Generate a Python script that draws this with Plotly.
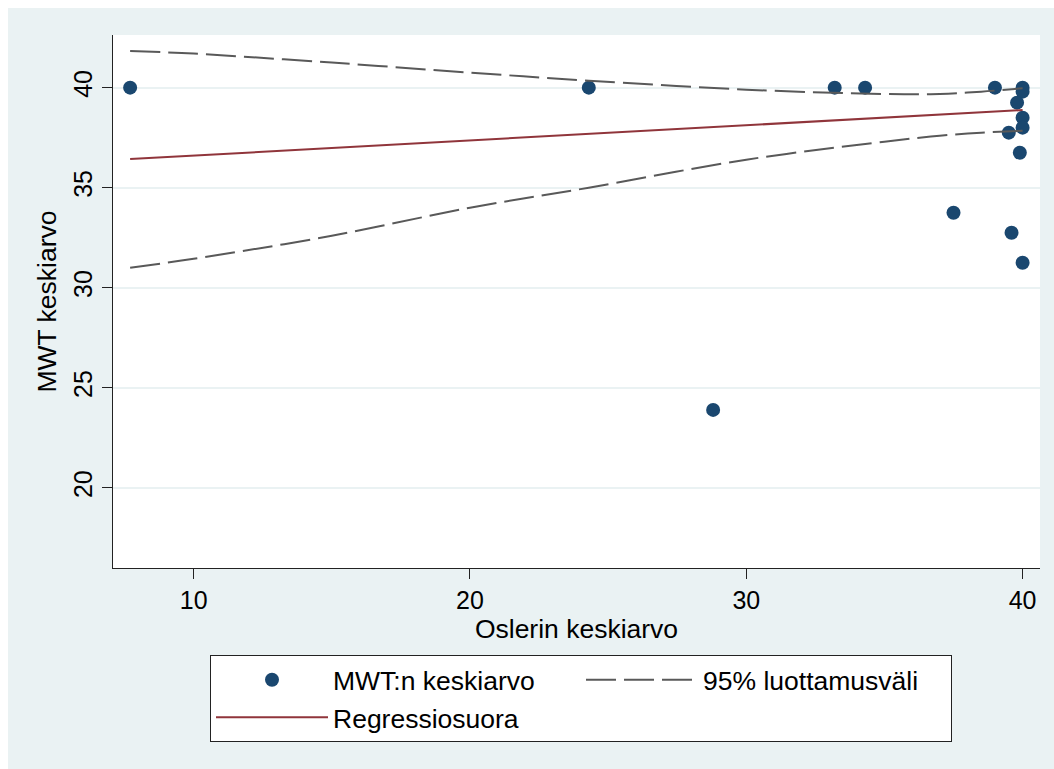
import plotly.graph_objects as go

# Data
osler = [7.7, 24.3, 28.8, 33.2, 34.3, 37.5, 39.0, 40.0, 40.0, 39.8, 40.0, 40.0, 39.5, 39.9, 39.6, 40.0]
mwt = [40.0, 40.0, 23.9, 40.0, 40.0, 33.75, 40.0, 40.0, 39.8, 39.25, 38.5, 38.0, 37.75, 36.75, 32.75, 31.25]

fit_x = [7.7, 40.0]
fit_y = [36.43, 38.88]

ci_x = [7.7, 10, 15, 20, 24.3, 30, 35, 37, 38.5, 40]
ci_upper = [41.83, 41.7, 41.25, 40.75, 40.35, 39.9, 39.68, 39.68, 39.8, 39.97]
ci_lower = [31.0, 31.45, 32.6, 34.0, 35.0, 36.4, 37.3, 37.6, 37.75, 37.85]

y_ticks = [20, 25, 30, 35, 40]
x_ticks = [10, 20, 30, 40]

NAVY = "#1A476F"
MAROON = "#90353B"
DASH = "#595959"
BG = "#EAF2F3"
FONT = "Liberation Sans, Arial, sans-serif"

fig = go.Figure()
fig.add_trace(go.Scatter(x=osler, y=mwt, mode="markers", name="MWT:n keskiarvo",
                         marker=dict(color=NAVY, size=14, line=dict(width=0))))
fig.add_trace(go.Scatter(x=ci_x, y=ci_upper, mode="lines", name="95% luottamusväli",
                         line=dict(color=DASH, width=2, dash="30px,8px", shape="spline")))
fig.add_trace(go.Scatter(x=fit_x, y=fit_y, mode="lines", name="Regressiosuora",
                         line=dict(color=MAROON, width=2)))
fig.add_trace(go.Scatter(x=ci_x, y=ci_lower, mode="lines", name="95% luottamusväli",
                         showlegend=False,
                         line=dict(color=DASH, width=2, dash="30px,8px", shape="spline")))

W, H = 1054, 769
L, R, T, B = 113, 14, 35, 201
pw, ph = W - L - R, H - T - B

def px(xp):
    return (xp - L) / pw

def py(yp):
    return (H - B - yp) / ph

fig.update_layout(
    width=W, height=H,
    margin=dict(l=L, r=R, t=T, b=B, autoexpand=False),
    paper_bgcolor=BG, plot_bgcolor="white",
    font=dict(family=FONT, size=25, color="black"),
    showlegend=True,
    legend=dict(orientation="h", x=px(210), xanchor="left", y=py(655), yanchor="top",
                bgcolor="white", bordercolor="#222", borderwidth=1,
                entrywidth=243, entrywidthmode="pixels", itemwidth=112,
                font=dict(size=26.5, family=FONT), traceorder="normal"),
    xaxis=dict(range=[7.08, 40.63], tickvals=x_ticks, showgrid=False, zeroline=False,
               showline=True, linecolor="#222", linewidth=1, automargin=False,
               ticks="outside", ticklen=10, tickcolor="#222",
               title=dict(text="Oslerin keskiarvo", standoff=2, font=dict(size=26.5))),
    yaxis=dict(range=[16.0, 42.63], tickvals=y_ticks, showgrid=True, gridcolor=BG, gridwidth=2,
               zeroline=False, showline=True, linecolor="#222", linewidth=1, automargin=False,
               ticks="outside", ticklen=10, tickcolor="#222", tickangle=-90,
               title=dict(text="MWT keskiarvo", standoff=4, font=dict(size=26.5))),
    shapes=[
        dict(type="rect", xref="paper", yref="paper", x0=px(0), x1=px(W), y0=py(8), y1=py(0),
             fillcolor="white", line=dict(width=0), layer="below"),
        dict(type="rect", xref="paper", yref="paper", x0=px(0), x1=px(8), y0=py(H), y1=py(0),
             fillcolor="white", line=dict(width=0), layer="below"),
    ],
)

fig.write_html("out.html")
